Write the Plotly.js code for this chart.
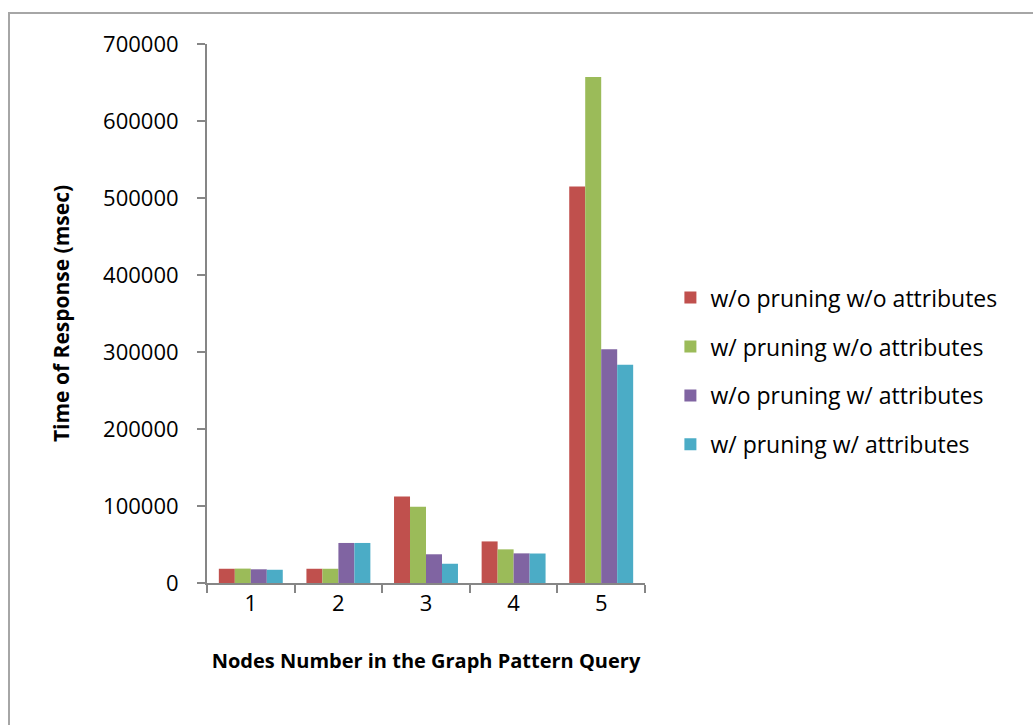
<!DOCTYPE html>
<html>
<head>
<meta charset="utf-8">
<script src="https://cdn.plot.ly/plotly-3.0.1.min.js"></script>
<style>
html,body{margin:0;padding:0;background:#fff;overflow:hidden;}
#frame{position:absolute;left:8px;top:12px;width:1100px;height:800px;border:2px solid #a6a6a6;box-sizing:border-box;}
#chart{position:absolute;left:0;top:0;width:1033px;height:725px;}
</style>
</head>
<body>
<div id="frame"></div>
<div id="chart"></div>
<script>
const categories = ["1", "2", "3", "4", "5"];
const seriesNames = [
  "w/o pruning w/o attributes",
  "w/ pruning w/o attributes",
  "w/o pruning w/ attributes",
  "w/ pruning w/ attributes"
];
const woPruningWoAttr = [18500, 18500, 112500, 54000, 515000];
const wPruningWoAttr  = [18700, 18500, 99000, 43700, 657000];
const woPruningWAttr  = [17800, 52000, 37300, 38500, 303500];
const wPruningWAttr   = [17200, 52000, 25000, 38300, 283500];
const colors = ["#C0504D", "#9BBB59", "#8064A2", "#4BACC6"];
const yTicks = [0, 100000, 200000, 300000, 400000, 500000, 600000, 700000];

const allSeries = [woPruningWoAttr, wPruningWoAttr, woPruningWAttr, wPruningWAttr];
const font = "Open Sans, Noto Sans, sans-serif";

const traces = allSeries.map((vals, i) => ({
  type: "bar",
  name: seriesNames[i],
  x: categories,
  y: vals,
  marker: {color: colors[i], line: {width: 0}},
  legendgroup: "g" + i
}));

const layout = {
  width: 1033,
  height: 725,
  margin: {l: 207, r: 388, t: 44, b: 142},
  paper_bgcolor: "rgba(0,0,0,0)",
  plot_bgcolor: "rgba(0,0,0,0)",
  bargap: 0.27,
  bargroupgap: 0,
  showlegend: true,
  font: {family: font, color: "#000"},
  legend: {
    x: 1.058, xanchor: "left",
    y: 0.393, yanchor: "middle",
    font: {size: 23, family: font, color: "#000"},
    traceorder: "grouped",
    tracegroupgap: 16,
    itemwidth: 30
  },
  xaxis: {
    type: "category",
    showline: true, linecolor: "#868686", linewidth: 2,
    ticks: "outside", tickson: "boundaries", ticklen: 8, tickcolor: "#868686", tickwidth: 2,
    tickfont: {size: 22, family: font},
    ticklabelstandoff: 0,
    showgrid: false, zeroline: false,
    title: {text: "<b>Nodes Number in the Graph Pattern Query</b>", font: {size: 20, family: font}, standoff: 38}
  },
  yaxis: {
    range: [0, 700000],
    tickvals: yTicks,
    ticktext: yTicks.map(String),
    showline: true, linecolor: "#868686", linewidth: 2,
    ticks: "outside", ticklen: 8, tickcolor: "#868686", tickwidth: 2,
    tickfont: {size: 22, family: font},
    ticklabelstandoff: 14,
    showgrid: false, zeroline: false,
    title: {text: "<b>Time of Response (msec)</b>", font: {size: 21, family: font}, standoff: 28}
  }
};

Plotly.newPlot("chart", traces, layout, {displayModeBar: false, staticPlot: true});
</script>
</body>
</html>
